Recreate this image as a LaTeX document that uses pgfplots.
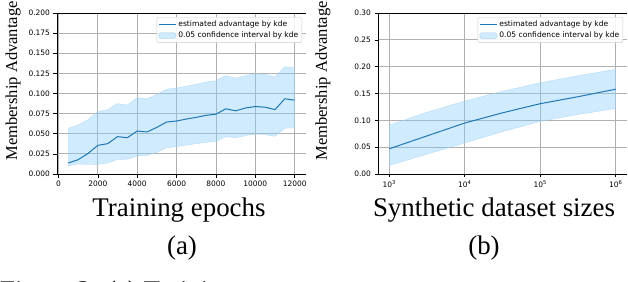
\documentclass[border=0pt]{standalone}
\usepackage{fontspec}
\setmainfont{Liberation Serif}
\newfontfamily\tickfont{DejaVu Sans}
\usepackage{pgfplots}
\usepackage{pgfplotstable}
\pgfplotsset{compat=1.18}
\definecolor{tabblue}{RGB}{31,119,180}
\definecolor{bandfill}{RGB}{135,206,250}
\definecolor{bandedge}{RGB}{170,212,245}
\definecolor{gridgray}{RGB}{176,176,176}

% mean curve
\pgfplotstableread{
x mean
500 0.0137
1000 0.0178
1500 0.0255
2000 0.0356
2500 0.0377
3000 0.0464
3500 0.0451
4000 0.0534
4500 0.0522
5000 0.0580
5500 0.0646
6000 0.0658
6500 0.0683
7000 0.0704
7500 0.0729
8000 0.0743
8500 0.0810
9000 0.0785
9500 0.0820
10000 0.0838
10500 0.0830
11000 0.0800
11500 0.0934
12000 0.0917
}\meanA

% confidence band: upper edge left to right, then lower edge right to left
\pgfplotstableread{
x y
500 0.0567
1000 0.0609
1500 0.0675
2000 0.0774
2500 0.0799
3000 0.0874
3500 0.0857
4000 0.0948
4500 0.0936
5000 0.0986
5500 0.1052
6000 0.1068
6500 0.1089
7000 0.1114
7500 0.1143
8000 0.1159
8500 0.1222
9000 0.1188
9500 0.1222
10000 0.1246
10500 0.1238
11000 0.1205
11500 0.1333
12000 0.1317
12000 0.0573
11500 0.0570
11000 0.0468
10500 0.0489
10000 0.0497
9500 0.0476
9000 0.0450
8500 0.0464
8000 0.0408
7500 0.0393
7000 0.0377
6500 0.0360
6000 0.0340
5500 0.0327
5000 0.0270
4500 0.0232
4000 0.0224
3500 0.0185
3000 0.0180
2500 0.0137
2000 0.0120
1500 0.0118
1000 0.0125
500 0.0104
}\bandA

\pgfplotstableread{
x mean
1000 0.047
3162 0.071
10000 0.095
31623 0.114
100000 0.131
316228 0.144
1000000 0.158
}\meanB

\pgfplotstableread{
x y
1000 0.091
3162 0.115
10000 0.136
31623 0.154
100000 0.170
316228 0.183
1000000 0.195
1000000 0.122
316228 0.111
100000 0.098
31623 0.079
10000 0.058
3162 0.037
1000 0.016
}\bandB

\pgfplotsset{
  mystyle/.style={
    scale only axis, width=249bp, height=161bp,
    anchor=north west,
    axis lines*=left, axis line style={-, black, line width=0.8bp},
    grid=major,
    major grid style={gridgray, line width=0.8bp},
    tick align=outside,
    xtick pos=bottom, ytick pos=left,
    major tick length=3.5bp, minor tick length=2bp,
    tick style={black, line width=0.6bp},
    scaled x ticks=false, scaled y ticks=false,
    /pgf/number format/assume math mode=true,
    tick label style={font=\tickfont\fontsize{7.5}{8}\selectfont},
    label style={font=\fontsize{27}{30}\selectfont},
    ylabel style={font=\fontsize{16.6}{18}\selectfont, anchor=base},
    xlabel style={anchor=base},
    legend style={font=\tickfont\fontsize{7.6}{9.5}\selectfont,
      draw=black!20, rounded corners=1.5bp, fill=white, fill opacity=0.85, text opacity=1,
      inner sep=1.5bp, row sep=0bp,
      at={(0.984,0.975)}, anchor=north east},
    legend cell align=left,
    after end axis/.code={\draw[black, line width=0.8bp] (rel axis cs:0,1) -- (rel axis cs:1,1);},
  }
}

\begin{document}
\begin{tikzpicture}
\useasboundingbox (0,0) rectangle (628bp,-282bp);

\begin{axis}[mystyle,
  at={(57bp,-13bp)},
  xmin=-75, xmax=12575, ymin=0, ymax=0.2,
  xtick={0,2000,4000,6000,8000,10000,12000},
  ytick={0,0.025,0.05,0.075,0.1,0.125,0.15,0.175,0.2},
  xticklabel style={/pgf/number format/fixed, /pgf/number format/1000 sep={}},
  yticklabel style={/pgf/number format/fixed, /pgf/number format/fixed zerofill, /pgf/number format/precision=3},
  xlabel={Training epochs},
  xlabel style={at={(axis description cs:0.49,-0.264)}},
  ylabel={Membership Advantage},
  ylabel style={at={(axis description cs:-0.1606,0.578)}},
]
\addplot[fill=bandfill, fill opacity=0.4, draw=bandedge, line width=0.3bp, forget plot] table[x=x,y=y]{\bandA} -- cycle;
\addplot[tabblue, line width=1bp] table[x=x,y=mean]{\meanA};
\addlegendimage{area legend, fill=bandfill, fill opacity=0.4, draw=bandedge}
\legend{estimated advantage by kde, 0.05 confidence interval by kde}
\end{axis}

\begin{axis}[mystyle,
  at={(378bp,-13bp)},
  xmode=log, log basis x=10,
  xmin=708, xmax=1412538, ymin=0, ymax=0.3,
  xtick={1000,10000,100000,1000000},
  xticklabels={10\textsuperscript{3},10\textsuperscript{4},10\textsuperscript{5},10\textsuperscript{6}},
  ytick={0,0.05,0.1,0.15,0.2,0.25,0.3},
  yticklabel style={/pgf/number format/fixed, /pgf/number format/fixed zerofill, /pgf/number format/precision=2},
  xlabel={Synthetic dataset sizes},
  xlabel style={at={(axis description cs:0.466,-0.264)}},
  ylabel={Membership Advantage},
  ylabel style={at={(axis description cs:-0.205,0.578)}},
]
\addplot[fill=bandfill, fill opacity=0.4, draw=bandedge, line width=0.3bp, forget plot] table[x=x,y=y]{\bandB} -- cycle;
\addplot[tabblue, line width=1bp] table[x=x,y=mean]{\meanB};
\addlegendimage{area legend, fill=bandfill, fill opacity=0.4, draw=bandedge}
\legend{estimated advantage by kde, 0.05 confidence interval by kde}
\end{axis}

\node[anchor=base, font=\fontsize{27}{30}\selectfont] at (182bp,-254bp) {(a)};
\node[anchor=base, font=\fontsize{27}{30}\selectfont] at (484bp,-254bp) {(b)};
\node[anchor=base west, font=\fontsize{27}{30}\selectfont, inner sep=0pt] at (0bp,-299bp) {Figure 3: (a) Training};
\end{tikzpicture}
\end{document}
